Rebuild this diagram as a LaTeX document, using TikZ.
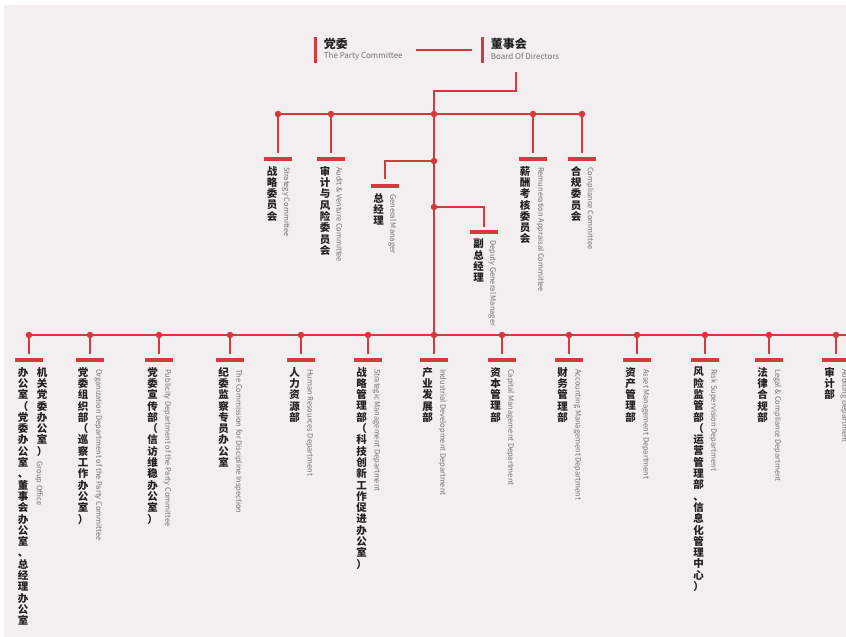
\documentclass[tikz,border=0pt]{standalone}
\usepackage{fontspec}
\usepackage{tikz}
\usetikzlibrary{positioning}
\newfontfamily\cjk{Noto Sans CJK SC}
\definecolor{orgred}{HTML}{D6383E}
\definecolor{bggray}{HTML}{F3EFF0}
\definecolor{engray}{HTML}{707070}
\definecolor{zhdark}{HTML}{222222}
% one character per line, for the vertical Chinese labels
\def\vcolend{\vcolend}
\def\vcolaux#1{\ifx\vcolend#1\else\hbox to 1.05em{\hss#1\hss}\expandafter\vcolaux\fi}
\newcommand{\vcol}[1]{\vbox{\baselineskip=11.3pt\lineskiplimit=-20pt\lineskip=0pt\vcolaux#1\vcolend}}

\begin{document}
\begin{tikzpicture}[
    x=1pt, y=-1pt,
    link/.style={draw=orgred, line width=1.1pt},
    dot/.style={circle, fill=orgred, minimum size=6.5pt, inner sep=0pt},
    hbar/.style={fill=orgred, minimum width=28pt, minimum height=3.5pt, inner sep=0pt},
    vbar/.style={fill=orgred, minimum width=3pt, minimum height=26pt, inner sep=0pt},
    zh/.style={font=\cjk\bfseries\fontsize{10.5}{11.3}\selectfont, text=zhdark, inner sep=0pt, anchor=north},
    en/.style={font=\cjk\fontsize{7.5}{8}\selectfont, text=engray, inner sep=0pt, rotate=-90, anchor=west},
    toplabel/.style={font=\cjk\bfseries\fontsize{12}{13}\selectfont, text=zhdark, inner sep=0pt},
    topsub/.style={font=\cjk\fontsize{8}{9}\selectfont, text=engray, inner sep=0pt}
]
    \useasboundingbox (0,0) rectangle (846,637);
    \fill[bggray] (4,5) rectangle (846,637);

    % party committee and board
    \node[vbar] (pcbar) at (315,50) {};
    \node[toplabel, anchor=north west] (pczh) at ([xshift=7pt,yshift=-1pt]pcbar.north east) {党委};
    \node[topsub, anchor=south west] (pcen) at ([xshift=7pt,yshift=3pt]pcbar.south east) {The Party Committee};
    \node[vbar] (bdbar) at (482,50) {};
    \node[toplabel, anchor=north west] (bdzh) at ([xshift=7pt,yshift=-1pt]bdbar.north east) {董事会};
    \node[topsub, anchor=south west] (bden) at ([xshift=7pt,yshift=3pt]bdbar.south east) {Board Of Directors};
    \coordinate (bdout) at (516,72);
    \draw[link] ([xshift=-8pt]bdbar.west) -- ([xshift=-64pt]bdbar.west);

    % committees
    \node[dot] (c1) at (278,114) {};
    \node[dot] (c2) at (331,114) {};
    \node[dot] (c3) at (434,114) {};
    \node[dot] (c4) at (533,114) {};
    \node[dot] (c5) at (582,114) {};
    \node[dot] (gm) at (434,161) {};
    \node[dot] (dgm) at (434,207) {};
    \node[hbar] (cb1) at (278,159) {};
    \node[hbar] (cb2) at (331,159) {};
    \node[hbar] (gmbar) at (385,186) {};
    \node[hbar] (dgmbar) at (484,232) {};
    \node[hbar] (cb4) at (533,159) {};
    \node[hbar] (cb5) at (582,159) {};
    \node[zh, below=5pt of cb1, xshift=-6pt] (cz1) {\vcol{战略委员会}};
    \node[en] (ce1) at ([xshift=8pt,yshift=-6pt]cb1.south) {Strategy Committee};
    \node[zh, below=5pt of cb2, xshift=-6pt] (cz2) {\vcol{审计与风险委员会}};
    \node[en] (ce2) at ([xshift=8.5pt,yshift=-6pt]cb2.south) {Audit \& Venture Committee};
    \node[zh, below=5pt of gmbar, xshift=-6.5pt] (gmzh) {\vcol{总经理}};
    \node[en] (gmen) at ([xshift=7.5pt,yshift=-6pt]gmbar.south) {General Manager};
    \node[zh, below=5pt of dgmbar, xshift=-5.5pt] (dgmzh) {\vcol{副总经理}};
    \node[en] (dgmen) at ([xshift=8.5pt,yshift=-6pt]dgmbar.south) {Deputy General Manager};
    \node[zh, below=5pt of cb4, xshift=-8pt] (cz4) {\vcol{薪酬考核委员会}};
    \node[en] (ce4) at ([xshift=7.5pt,yshift=-6pt]cb4.south) {Remuneration Appraisal Committee};
    \node[zh, below=5pt of cb5, xshift=-6pt] (cz5) {\vcol{合规委员会}};
    \node[en] (ce5) at ([xshift=8pt,yshift=-6pt]cb5.south) {Compliance Committee};

    \draw[link] (bdout) -- ++(0,19) -| (c3);
    \draw[link] (c1) -- (c5);
    \draw[link, shorten >=4pt] (c1) -- (cb1);
    \draw[link, shorten >=4pt] (c2) -- (cb2);
    \draw[link, shorten >=4pt] (c4) -- (cb4);
    \draw[link, shorten >=4pt] (c5) -- (cb5);
    \draw[link, shorten >=5pt] (gm) -| (gmbar);
    \draw[link, shorten >=3pt] (dgm) -| (dgmbar);

    % departments
    \node[dot] (d1) at (29,335) {};
    \node[dot] (d2) at (90,335) {};
    \node[dot] (d3) at (159,335) {};
    \node[dot] (d4) at (230,335) {};
    \node[dot] (d5) at (301,335) {};
    \node[dot] (d6) at (368,335) {};
    \node[dot] (d7) at (434,335) {};
    \node[dot] (d8) at (502,335) {};
    \node[dot] (d9) at (569,335) {};
    \node[dot] (d10) at (637,335) {};
    \node[dot] (d11) at (705,335) {};
    \node[dot] (d12) at (769,335) {};
    \node[dot] (d13) at (836,335) {};
    \coordinate (busend) at (846,335);
    \node[hbar] (b1) at (29,360) {};
    \node[hbar] (b2) at (90,360) {};
    \node[hbar] (b3) at (159,360) {};
    \node[hbar] (b4) at (230,360) {};
    \node[hbar] (b5) at (301,360) {};
    \node[hbar] (b6) at (368,360) {};
    \node[hbar] (b7) at (434,360) {};
    \node[hbar] (b8) at (502,360) {};
    \node[hbar] (b9) at (569,360) {};
    \node[hbar] (b10) at (637,360) {};
    \node[hbar] (b11) at (705,360) {};
    \node[hbar] (b12) at (769,360) {};
    \node[hbar] (b13) at (836,360) {};

    \node[zh, below=5pt of b1, xshift=-6pt] (z1) {\vcol{办公室（党委办公室、董事会办公室、总经理办公室}};
    \node[zh, below=5pt of b1, xshift=13pt] (z1b) {\vcol{机关党委办公室）}};
    \node[en] (e1) at ([xshift=-3pt,yshift=-5pt]z1b.south) {Group Office};
    \node[zh, below=5pt of b2, xshift=-7pt] (z2) {\vcol{党委组织部（巡察工作办公室）}};
    \node[en] (e2) at ([xshift=8.5pt,yshift=-7pt]b2.south) {Organization Department of the Party Committee};
    \node[zh, below=5pt of b3, xshift=-6.5pt] (z3) {\vcol{党委宣传部（信访维稳办公室）}};
    \node[en] (e3) at ([xshift=8.5pt,yshift=-7pt]b3.south) {Publicity Department of the Party Committee};
    \node[zh, below=5pt of b4, xshift=-6.5pt] (z4) {\vcol{纪委监察专员办公室}};
    \node[en] (e4) at ([xshift=8.5pt,yshift=-7pt]b4.south) {The Commission for Discipline Inspection};
    \node[zh, below=5pt of b5, xshift=-6.5pt] (z5) {\vcol{人力资源部}};
    \node[en] (e5) at ([xshift=8.5pt,yshift=-7pt]b5.south) {Human Resources Department};
    \node[zh, below=5pt of b6, xshift=-6.5pt] (z6) {\vcol{战略管理部（科技创新工作促进办公室）}};
    \node[en] (e6) at ([xshift=8.5pt,yshift=-7pt]b6.south) {Strategic Management Department};
    \node[zh, below=5pt of b7, xshift=-6.5pt] (z7) {\vcol{产业发展部}};
    \node[en] (e7) at ([xshift=8.5pt,yshift=-7pt]b7.south) {Industrial Development Department};
    \node[zh, below=5pt of b8, xshift=-6.5pt] (z8) {\vcol{资本管理部}};
    \node[en] (e8) at ([xshift=8.5pt,yshift=-7pt]b8.south) {Capital Management Department};
    \node[zh, below=5pt of b9, xshift=-6.5pt] (z9) {\vcol{财务管理部}};
    \node[en] (e9) at ([xshift=8.5pt,yshift=-7pt]b9.south) {Accounting Management Department};
    \node[zh, below=5pt of b10, xshift=-6.5pt] (z10) {\vcol{资产管理部}};
    \node[en] (e10) at ([xshift=8.5pt,yshift=-7pt]b10.south) {Asset Management Department};
    \node[zh, below=5pt of b11, xshift=-6.5pt] (z11) {\vcol{风险监管部（运营管理部、信息化管理中心）}};
    \node[en] (e11) at ([xshift=8.5pt,yshift=-7pt]b11.south) {Risk Supervision Department};
    \node[zh, below=5pt of b12, xshift=-6.5pt] (z12) {\vcol{法律合规部}};
    \node[en] (e12) at ([xshift=8.5pt,yshift=-7pt]b12.south) {Legal \& Compliance Department};
    \node[zh, below=5pt of b13, xshift=-6.5pt] (z13) {\vcol{审计部}};
    \node[en] (e13) at ([xshift=8.5pt,yshift=-7pt]b13.south) {Auditing Department};

    \draw[link] (c3) -- (d7);
    \draw[link] (d1) -- (busend);
    \draw[link, shorten >=4pt] (d1) -- (b1);
    \draw[link, shorten >=4pt] (d2) -- (b2);
    \draw[link, shorten >=4pt] (d3) -- (b3);
    \draw[link, shorten >=4pt] (d4) -- (b4);
    \draw[link, shorten >=4pt] (d5) -- (b5);
    \draw[link, shorten >=4pt] (d6) -- (b6);
    \draw[link, shorten >=4pt] (d7) -- (b7);
    \draw[link, shorten >=4pt] (d8) -- (b8);
    \draw[link, shorten >=4pt] (d9) -- (b9);
    \draw[link, shorten >=4pt] (d10) -- (b10);
    \draw[link, shorten >=4pt] (d11) -- (b11);
    \draw[link, shorten >=4pt] (d12) -- (b12);
    \draw[link, shorten >=4pt] (d13) -- (b13);
\end{tikzpicture}
\end{document}
